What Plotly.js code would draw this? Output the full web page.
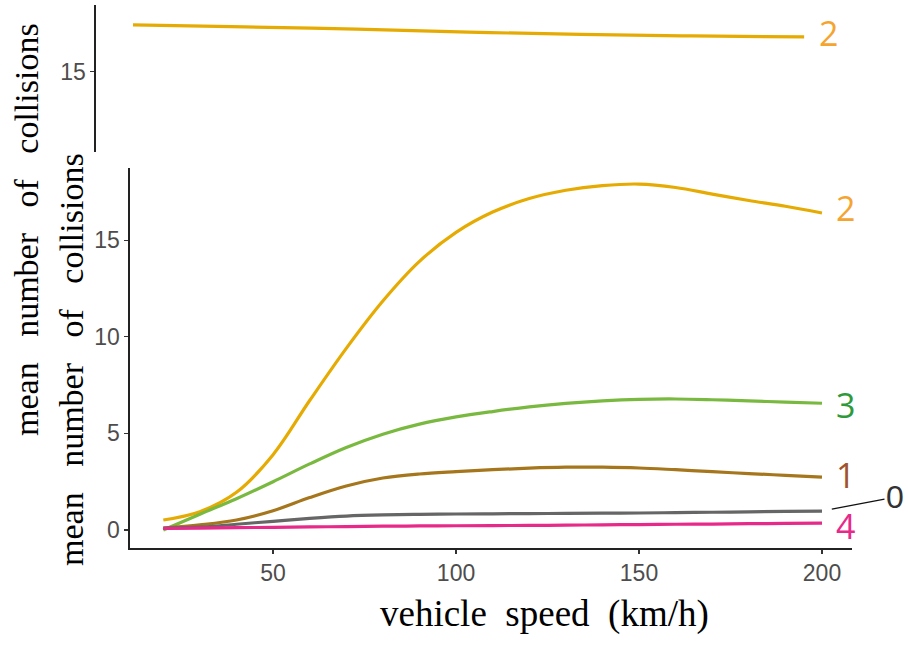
<!DOCTYPE html>
<html>
<head>
<meta charset="utf-8">
<script src="https://cdn.plot.ly/plotly-3.0.1.min.js"></script>
<style>html,body{margin:0;padding:0;background:#fff;}#chart{width:908px;height:646px;}</style>
</head>
<body>
<div id="chart"></div>
<script>
// ---- data ----
const speed = [20, 30, 40, 50, 60, 70, 80, 90, 100, 110, 120, 130, 140, 150, 160, 170, 180, 190, 200];
const group2 = [0.52, 0.95, 1.95, 3.9, 6.7, 9.4, 11.85, 13.9, 15.4, 16.45, 17.15, 17.58, 17.82, 17.9, 17.72, 17.38, 17.05, 16.75, 16.4];
const group3 = [0.0, 0.82, 1.62, 2.5, 3.42, 4.27, 4.96, 5.48, 5.85, 6.13, 6.37, 6.55, 6.68, 6.76, 6.78, 6.74, 6.68, 6.62, 6.56];
const group1 = [0.1, 0.27, 0.52, 1.0, 1.68, 2.28, 2.69, 2.9, 3.02, 3.12, 3.2, 3.25, 3.25, 3.21, 3.12, 3.02, 2.92, 2.83, 2.74];
const group0 = [0.1, 0.15, 0.3, 0.45, 0.6, 0.72, 0.78, 0.81, 0.83, 0.84, 0.85, 0.86, 0.87, 0.88, 0.9, 0.92, 0.94, 0.96, 0.98];
const group4 = [0.08, 0.1, 0.12, 0.14, 0.16, 0.18, 0.2, 0.21, 0.22, 0.23, 0.24, 0.25, 0.27, 0.28, 0.3, 0.31, 0.33, 0.34, 0.36];
const topSpeed = [20, 50, 80, 110, 140, 170, 200];
const topGroup2 = [17.42, 17.32, 17.2, 17.05, 16.93, 16.85, 16.8];
const xTicks = [50, 100, 150, 200];
const yTicks = [0, 5, 10, 15];
const yTicksTop = [15];
const yTitle = "mean\u00A0\u00A0 number\u00A0\u00A0 of\u00A0\u00A0 collisions";
const xTitle = "vehicle\u00A0 speed\u00A0 (km/h)";

const W = 908, H = 646;
const px = v => v / W, py = v => 1 - v / H;

const series = [
  {y: group2, name: '2', line: '#E6AB02', lab: '#F5A430', ys: 5},
  {y: group3, name: '3', line: '#7AB940', lab: '#2F9A3A', ys: -2},
  {y: group1, name: '1', line: '#A6761D', lab: '#A0522D', ys: 2},
  {y: group0, name: '0', line: '#666666', lab: '#333333', ys: 0},
  {y: group4, name: '4', line: '#E7298A', lab: '#E7298A', ys: -3}
];

const traces = series.map(s => ({
  x: speed, y: s.y, type: 'scatter', mode: 'lines', xaxis: 'x', yaxis: 'y',
  line: {color: s.line, width: 3.2, shape: 'spline', smoothing: 1}, hoverinfo: 'skip'
}));
traces.push({
  x: topSpeed, y: topGroup2, type: 'scatter', mode: 'lines', xaxis: 'x2', yaxis: 'y2',
  line: {color: '#E6AB02', width: 3.2, shape: 'spline'}, hoverinfo: 'skip'
});

const labFont = 'Open Sans, Noto Sans, sans-serif';
const annotations = [];
series.forEach(s => {
  const lastX = speed[speed.length - 1], lastY = s.y[s.y.length - 1];
  if (s.name === '0') {
    annotations.push({x: lastX, y: lastY, xref: 'x', yref: 'y', text: s.name,
      showarrow: true, arrowhead: 0, arrowwidth: 1.3, arrowcolor: '#111', standoff: 10,
      ax: 73, ay: -14, font: {family: 'Liberation Sans, sans-serif', size: 32, color: s.lab}});
  } else {
    annotations.push({x: lastX, y: lastY, xref: 'x', yref: 'y', text: s.name, showarrow: false,
      xanchor: 'left', yanchor: 'middle', xshift: 12, yshift: s.ys,
      font: {family: labFont, size: 34, color: s.lab}});
  }
});
annotations.push({x: topSpeed[topSpeed.length - 1], y: topGroup2[topGroup2.length - 1], xref: 'x2', yref: 'y2',
  text: '2', showarrow: false, xanchor: 'left', yanchor: 'middle', xshift: 13, yshift: 4,
  font: {family: labFont, size: 34, color: '#F5A430'}});

const serif = 'Liberation Serif, Times New Roman, serif';
annotations.push({xref: 'paper', yref: 'paper', x: px(544), y: py(614), text: xTitle, showarrow: false,
  xanchor: 'center', yanchor: 'middle', font: {family: serif, size: 37, color: '#000'}});
annotations.push({xref: 'paper', yref: 'paper', x: px(26), y: py(230), text: yTitle, showarrow: false,
  textangle: -90, xanchor: 'center', yanchor: 'middle', font: {family: serif, size: 34, color: '#000'}});
annotations.push({xref: 'paper', yref: 'paper', x: px(71), y: py(360), text: yTitle, showarrow: false,
  textangle: -90, xanchor: 'center', yanchor: 'middle', font: {family: serif, size: 34, color: '#000'}});

const tickFont = {family: 'Liberation Sans, Arial, sans-serif', size: 23, color: '#4D4D4D'};
const axisCommon = {showgrid: false, zeroline: false, showline: true, linecolor: '#222', linewidth: 1.6,
  ticks: 'outside', ticklen: 4, tickwidth: 1.2, tickcolor: '#333', tickfont: tickFont};

const layout = {
  width: W, height: H, margin: {l: 0, r: 0, t: 0, b: 0},
  paper_bgcolor: '#fff', plot_bgcolor: 'rgba(0,0,0,0)', showlegend: false,
  xaxis: Object.assign({}, axisCommon, {domain: [px(130), px(852)], range: [10.9, 208.2],
    tickvals: xTicks, anchor: 'y'}),
  yaxis: Object.assign({}, axisCommon, {domain: [py(548), py(168)], range: [-0.93, 18.73],
    tickvals: yTicks, anchor: 'x'}),
  xaxis2: {domain: [px(96), px(850)], range: [10.07, 212.3], visible: false, anchor: 'y2'},
  yaxis2: Object.assign({}, axisCommon, {domain: [py(152), py(5)], range: [10.85, 18.45],
    tickvals: yTicksTop, anchor: 'x2'}),
  annotations: annotations
};

Plotly.newPlot('chart', traces, layout, {staticPlot: true, displayModeBar: false});
</script>
</body>
</html>
